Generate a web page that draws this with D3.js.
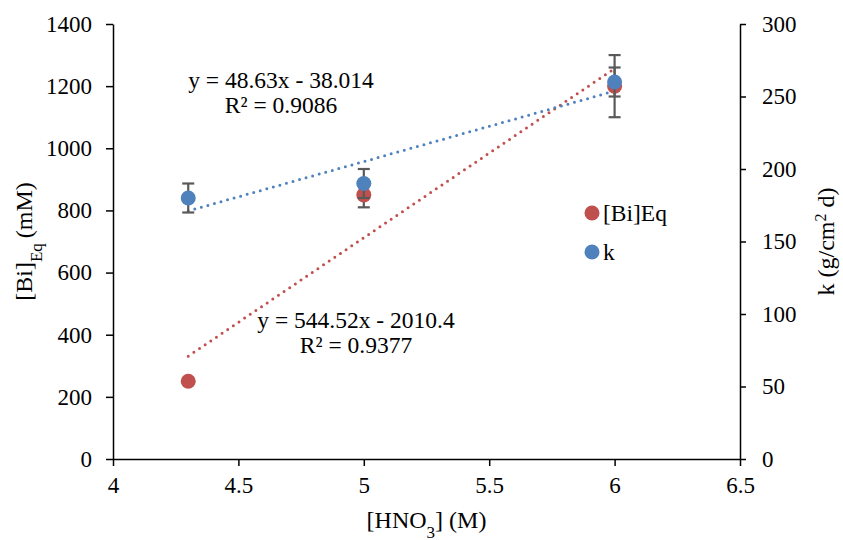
<!DOCTYPE html>
<html>
<head>
<meta charset="utf-8">
<script src="https://cdn.jsdelivr.net/npm/d3@7"></script>
<style>
  body { margin: 0; background: #fff; }
  svg { font-family: "Times New Roman", "Liberation Serif", Tinos, serif; }
  .axis path, .axis line { stroke: #000; stroke-width: 1.5; }
  .axis text { font-family: "Times New Roman", "Liberation Serif", Tinos, serif; font-size: 23px; fill: #000; }
</style>
</head>
<body>
<div id="chart"></div>
<script>
// data
const hno3 = [4.3, 5, 6];
const biEq = [250, 850, 1200];
const biEqErr = [4, 40, 100];
const kVals = [180, 190, 260];
const kErr = [10, 10, 10];

const xTicks = [4, 4.5, 5, 5.5, 6, 6.5];
const leftTicks = [0, 200, 400, 600, 800, 1000, 1200, 1400];
const rightTicks = [0, 50, 100, 150, 200, 250, 300];

// Excel linear trendlines (slope, intercept)
const biTrend = [544.52, -2010.4];
const kTrend = [48.63, -38.014];

const width = 843, height = 540;
const margin = { top: 24, right: 103, bottom: 81, left: 113 };
const innerW = width - margin.left - margin.right;
const innerH = height - margin.top - margin.bottom;

const red = '#C0504D', blue = '#4F81BD', errColor = '#595959';

const svg = d3.select('#chart').append('svg')
  .attr('width', width)
  .attr('height', height);

const g = svg.append('g')
  .attr('transform', `translate(${margin.left},${margin.top})`);

const x = d3.scaleLinear().domain([4, 6.5]).range([0, innerW]);
const yL = d3.scaleLinear().domain([0, 1400]).range([innerH, 0]);
const yR = d3.scaleLinear().domain([0, 300]).range([innerH, 0]);

// axes
g.append('g').attr('class', 'axis')
  .attr('transform', `translate(0,${innerH})`)
  .call(d3.axisBottom(x).tickValues(xTicks).tickFormat(d3.format('')).tickSize(7).tickSizeOuter(0).tickPadding(11));

g.append('g').attr('class', 'axis')
  .call(d3.axisLeft(yL).tickValues(leftTicks).tickFormat(d3.format('d')).tickSize(7).tickSizeOuter(0).tickPadding(14));

g.append('g').attr('class', 'axis')
  .attr('transform', `translate(${innerW},0)`)
  .call(d3.axisRight(yR).tickValues(rightTicks).tickFormat(d3.format('d')).tickSize(6).tickSizeOuter(0).tickPadding(16));

// trendlines
const xr = [d3.min(hno3), d3.max(hno3)];
function trend(coef, yScale, color) {
  g.append('line')
    .attr('x1', x(xr[0])).attr('y1', yScale(coef[0] * xr[0] + coef[1]))
    .attr('x2', x(xr[1])).attr('y2', yScale(coef[0] * xr[1] + coef[1]))
    .attr('stroke', color)
    .attr('stroke-width', 3)
    .attr('stroke-linecap', 'round')
    .attr('stroke-dasharray', '0 6.8');
}
trend(biTrend, yL, red);
trend(kTrend, yR, blue);

function errorBars(vals, errs, yScale) {
  const eb = g.append('g').attr('stroke', errColor).attr('stroke-width', 2.2);
  hno3.forEach((xv, i) => {
    const cx = x(xv);
    const y1 = yScale(vals[i] + errs[i]), y2 = yScale(vals[i] - errs[i]);
    eb.append('line').attr('x1', cx).attr('x2', cx).attr('y1', y1).attr('y2', y2);
    eb.append('line').attr('x1', cx - 6).attr('x2', cx + 6).attr('y1', y1).attr('y2', y1);
    eb.append('line').attr('x1', cx - 6).attr('x2', cx + 6).attr('y1', y2).attr('y2', y2);
  });
}

function markers(vals, yScale, color) {
  g.append('g').selectAll('circle')
    .data(vals)
    .join('circle')
    .attr('cx', (d, i) => x(hno3[i]))
    .attr('cy', d => yScale(d))
    .attr('r', 7.5)
    .attr('fill', color);
}

errorBars(biEq, biEqErr, yL);
markers(biEq, yL, red);
errorBars(kVals, kErr, yR);
markers(kVals, yR, blue);

// trendline labels
function eqLabel(lines, cx, cy) {
  const t = g.append('text')
    .attr('text-anchor', 'middle')
    .style('font-size', '23.5px');
  lines.forEach((s, i) => {
    t.append('tspan').attr('x', cx).attr('y', cy + i * 25).text(s);
  });
}
eqLabel(['y = 48.63x - 38.014', 'R² = 0.9086'], 281 - margin.left, 88 - margin.top);
eqLabel(['y = 544.52x - 2010.4', 'R² = 0.9377'], 356 - margin.left, 328 - margin.top);

// legend
const legend = [['[Bi]Eq', red], ['k', blue]];
legend.forEach((d, i) => {
  const ly = 213 + i * 39 - margin.top;
  g.append('circle').attr('cx', 592 - margin.left).attr('cy', ly).attr('r', 7.5).attr('fill', d[1]);
  g.append('text').attr('x', 603 - margin.left).attr('y', ly).attr('dy', '0.35em')
    .style('font-size', '23.5px').text(d[0]);
});

// axis titles
const xt = svg.append('text')
  .attr('x', margin.left + innerW / 2).attr('y', 528)
  .attr('text-anchor', 'middle').style('font-size', '24px');
xt.append('tspan').text('[HNO');
xt.append('tspan').attr('baseline-shift', 'sub').style('font-size', '17px').text('3');
xt.append('tspan').text('] (M)');

const ylt = svg.append('text')
  .attr('transform', `translate(32,${margin.top + innerH / 2}) rotate(-90)`)
  .attr('text-anchor', 'middle').style('font-size', '24px');
ylt.append('tspan').text('[Bi]');
ylt.append('tspan').attr('baseline-shift', 'sub').style('font-size', '17px').text('Eq');
ylt.append('tspan').attr('dx', 5).text('(mM)');

const yrt = svg.append('text')
  .attr('transform', `translate(834,${margin.top + innerH / 2}) rotate(-90)`)
  .attr('text-anchor', 'middle').style('font-size', '24px');
yrt.append('tspan').text('k (g/cm');
yrt.append('tspan').attr('baseline-shift', 'super').style('font-size', '16px').text('2');
yrt.append('tspan').text(' d)');
</script>
</body>
</html>
